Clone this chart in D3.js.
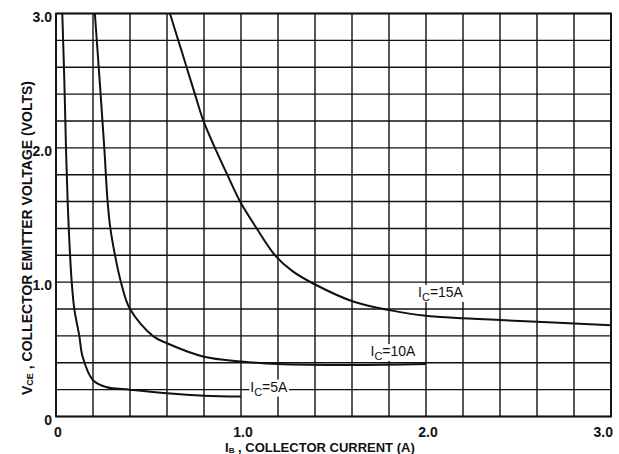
<!DOCTYPE html>
<html><head><meta charset="utf-8">
<script src="https://cdn.jsdelivr.net/npm/d3@7"></script>
<style>
html,body{margin:0;padding:0;background:#fff;}
svg{display:block;font-family:"Liberation Sans",Arial,sans-serif;}
</style></head>
<body><svg id="c" width="619" height="454"></svg>
<script>
// ---- data ----
const xTickLabels = ["0","1.0","2.0","3.0"];
const xTickValues = [0,1,2,3];
const yTickLabels = ["0","1.0","2.0","3.0"];
const yTickValues = [0,1,2,3];
const seriesNames = ["IC=5A","IC=10A","IC=15A"];
const ib5  = [0.034,0.045,0.054,0.063,0.069,0.076,0.085,0.099,0.126,0.144,0.2,0.27,0.4,0.6,0.8,1.0];
const vce5 = [3.0,2.5,2.0,1.6,1.4,1.2,1.0,0.8,0.6,0.445,0.27,0.22,0.2,0.173,0.155,0.148];
const ib10  = [0.21,0.236,0.261,0.279,0.294,0.319,0.351,0.40,0.523,0.6,0.8,1.0,1.2,1.6,2.0];
const vce10 = [3.0,2.5,2.0,1.6,1.4,1.2,1.0,0.8,0.6,0.545,0.445,0.41,0.39,0.383,0.39];
const ib15  = [0.616,0.661,0.706,0.751,0.797,0.859,0.926,0.995,1.085,1.184,1.28,1.39,1.61,1.81,2.0,2.4,3.0];
const vce15 = [3.0,2.8,2.6,2.4,2.2,2.0,1.8,1.6,1.4,1.2,1.08,0.99,0.854,0.79,0.75,0.718,0.68];
const labelAt = [[1.05,0.186],[1.70,0.45],[1.957,0.89]];
const xTitle = ["I","B"," , COLLECTOR CURRENT  (A)"];
const yTitle = ["V","CE"," , COLLECTOR EMITTER VOLTAGE  (VOLTS)"];

// ---- layout ----
const L=56, T=13.5, R=611, B=416.5;
const svg=d3.select("#c");
const x=d3.scaleLinear().domain([0,3]).range([L,R]);
const y=d3.scaleLinear().domain([0,3]).range([B,T]);
const ink="#111";

// grid
const gx=d3.range(0,3.0001,0.2), gy=d3.range(0,3.0001,0.2);
const g=svg.append("g");
g.selectAll("line.v").data(gx).join("line")
  .attr("x1",d=>x(d)).attr("x2",d=>x(d)).attr("y1",T).attr("y2",B)
  .attr("stroke",ink).attr("stroke-width",1.4);
g.selectAll("line.h").data(gy).join("line")
  .attr("y1",d=>y(d)).attr("y2",d=>y(d)).attr("x1",L).attr("x2",R)
  .attr("stroke",ink).attr("stroke-width",1.4);
svg.append("rect").attr("x",L).attr("y",T).attr("width",R-L).attr("height",B-T)
  .attr("fill","none").attr("stroke",ink).attr("stroke-width",1.8);

// curves
svg.append("clipPath").attr("id","clip").append("rect")
  .attr("x",L).attr("y",T).attr("width",R-L).attr("height",B-T);
const line=d3.line().x(d=>x(d[0])).y(d=>y(d[1])).curve(d3.curveCatmullRom.alpha(0.5));
const series=[d3.zip(ib5,vce5),d3.zip(ib10,vce10),d3.zip(ib15,vce15)];
svg.append("g").attr("clip-path","url(#clip)").selectAll("path").data(series).join("path")
  .attr("d",line).attr("fill","none").attr("stroke",ink).attr("stroke-width",2);

// curve labels
seriesNames.forEach((n,i)=>{
  const lg=svg.append("g");
  const bg=lg.append("rect").attr("fill","#fff");
  const t=lg.append("text").attr("x",x(labelAt[i][0])).attr("y",y(labelAt[i][1]))
    .attr("font-size",14).attr("fill",ink);
  t.append("tspan").text("I");
  t.append("tspan").text("C").attr("font-size",11).attr("dy",4);
  t.append("tspan").text(n.slice(2)).attr("dy",-4);
  const bb=t.node().getBBox();
  bg.attr("x",bb.x-1).attr("y",bb.y+1).attr("width",bb.width+2).attr("height",bb.height-2);
});

// tick labels
svg.append("g").selectAll("text").data(xTickValues).join("text")
  .attr("x",(d,i)=>i===xTickValues.length-1?613:x(d)+2)
  .attr("y",437).attr("text-anchor",(d,i)=>i===xTickValues.length-1?"end":"middle")
  .attr("font-size",14).attr("font-weight","bold").attr("fill",ink)
  .text((d,i)=>xTickLabels[i]);
svg.append("g").selectAll("text").data(yTickValues).join("text")
  .attr("x",52).attr("y",d=>y(d)+8).attr("text-anchor","end")
  .attr("font-size",14).attr("font-weight","bold").attr("fill",ink)
  .text((d,i)=>yTickLabels[i]);

// axis titles
const xt=svg.append("text").attr("x",225).attr("y",452)
  .attr("font-size",13).attr("font-weight","bold").attr("fill",ink);
xt.append("tspan").text(xTitle[0]);
xt.append("tspan").text(xTitle[1]).attr("font-size",8).attr("dy",1);
xt.append("tspan").text(xTitle[2]).attr("dy",-1);

const yt=svg.append("text").attr("transform","translate(32,395) rotate(-90)")
  .attr("font-size",14).attr("font-weight","bold").attr("fill",ink);
yt.append("tspan").text(yTitle[0]);
yt.append("tspan").text(yTitle[1]).attr("font-size",9).attr("dy",1);
yt.append("tspan").text(yTitle[2]).attr("dy",-1);
</script></body></html>
